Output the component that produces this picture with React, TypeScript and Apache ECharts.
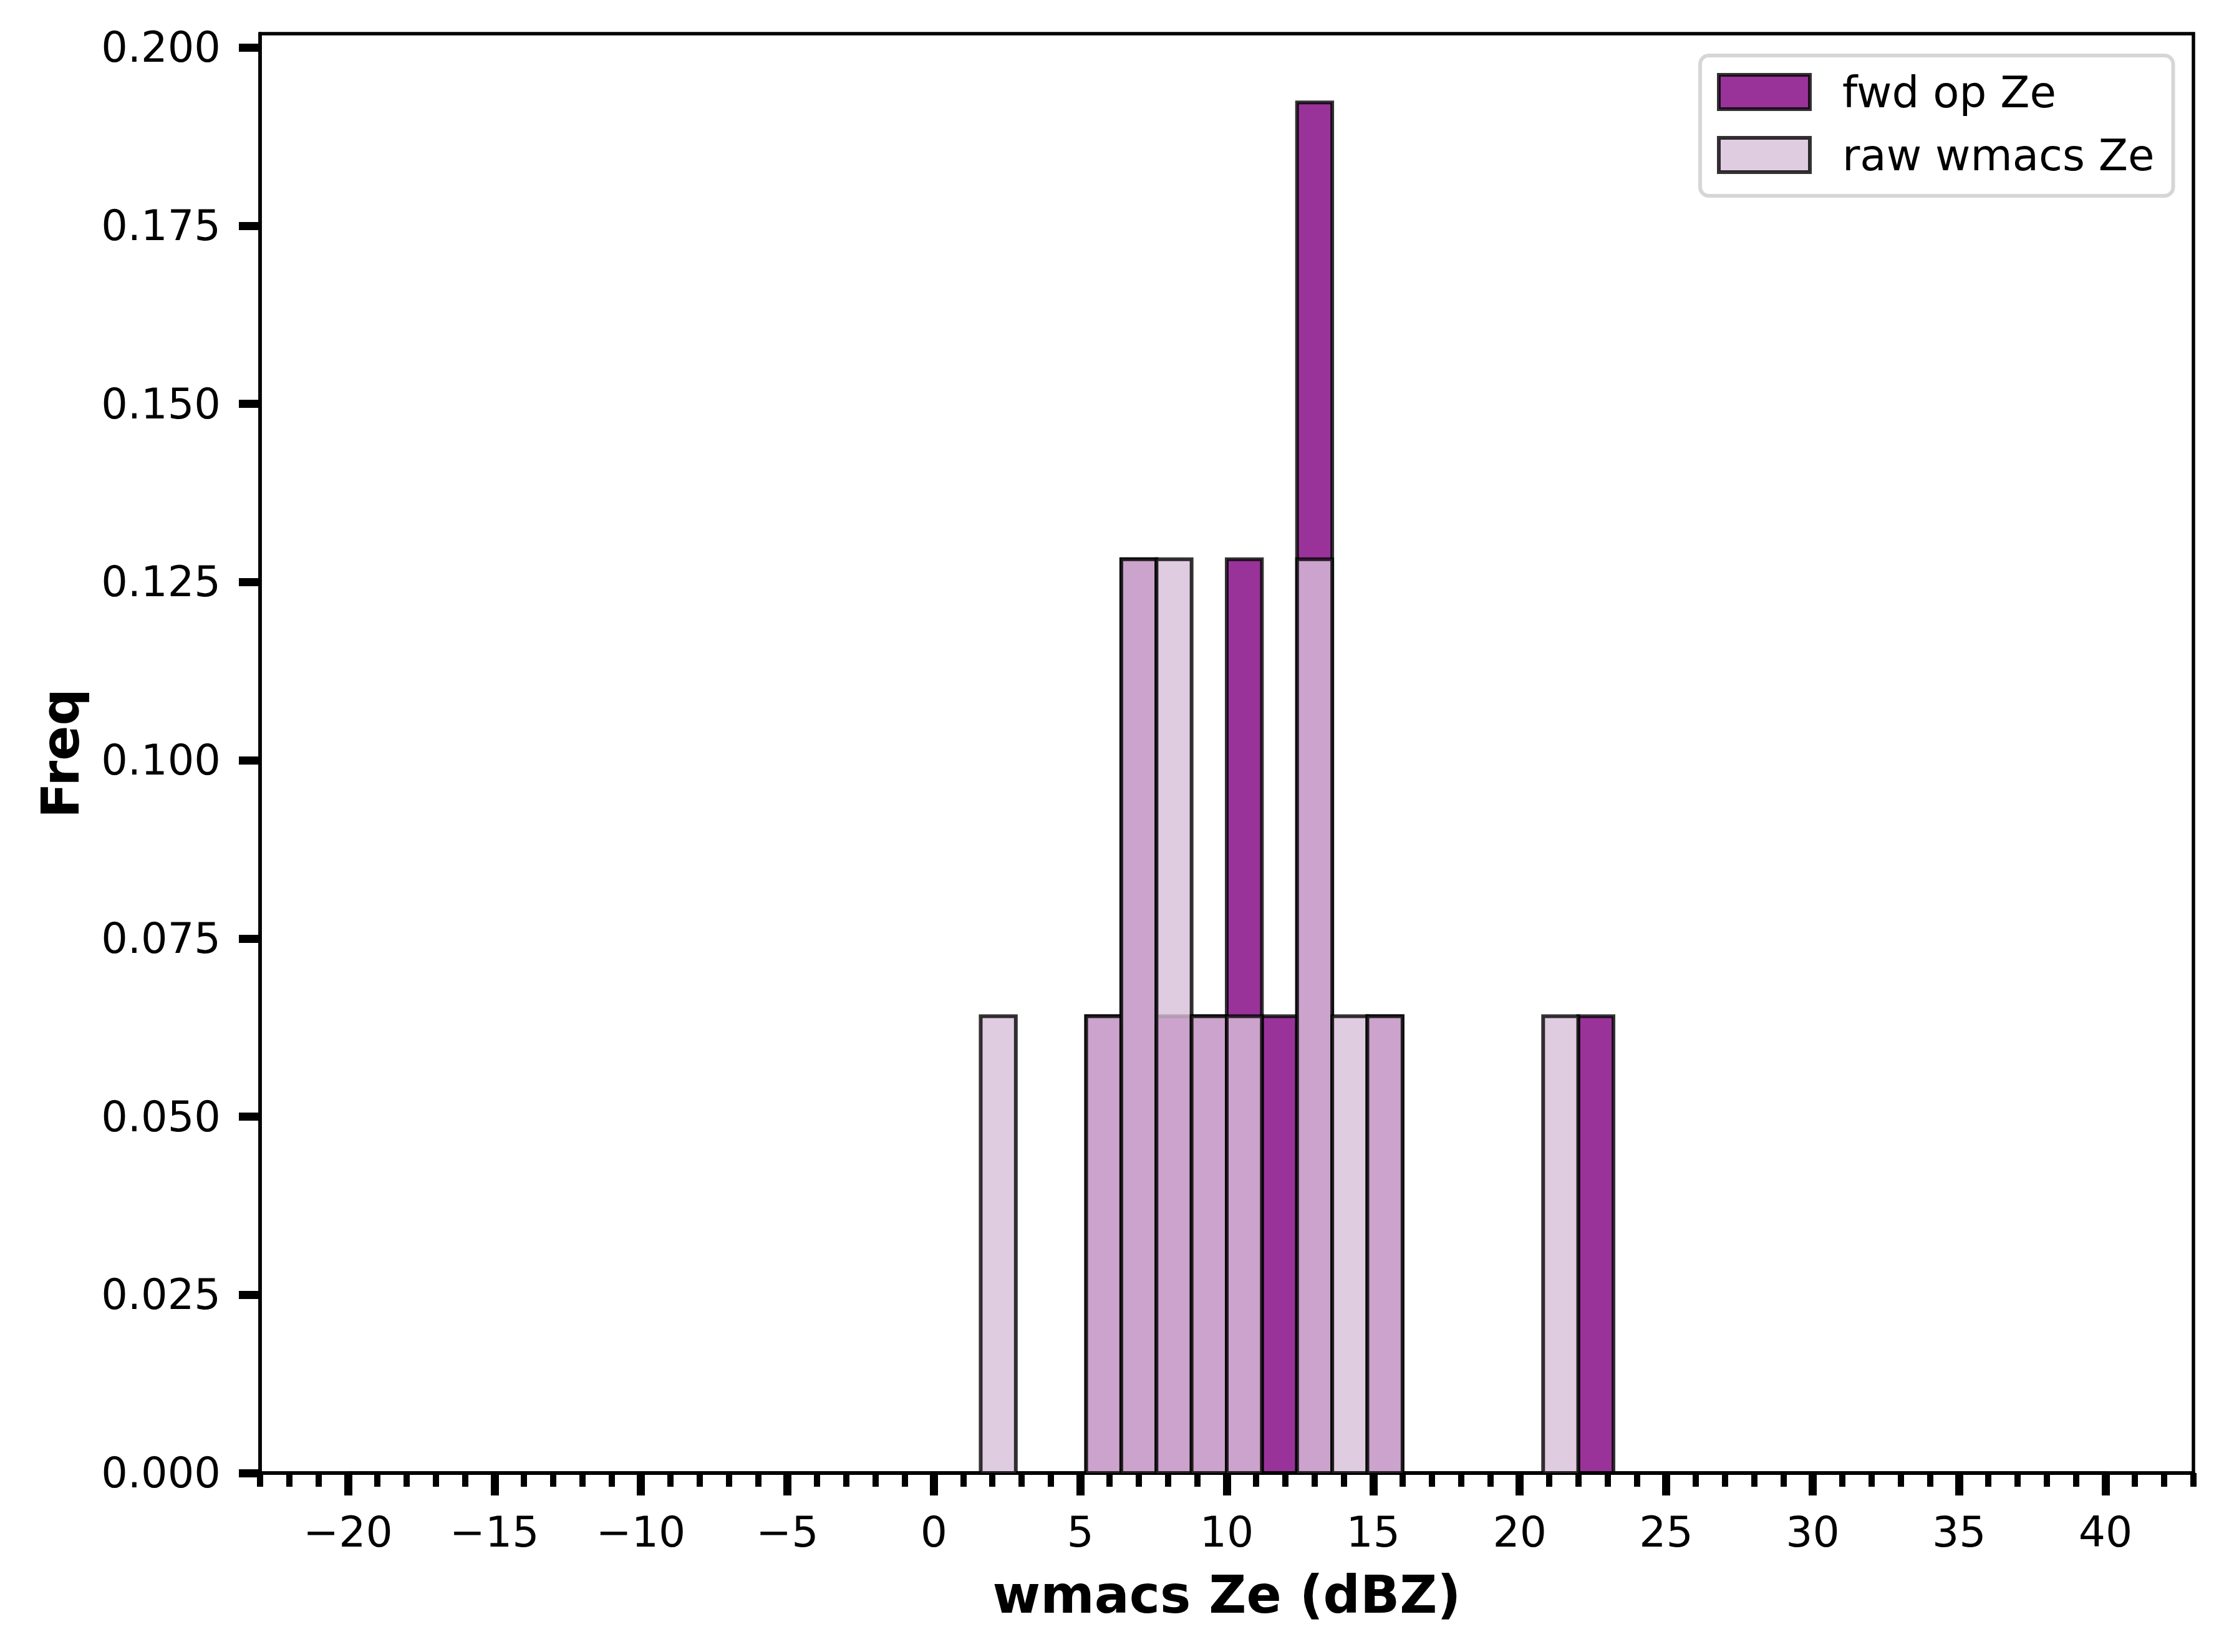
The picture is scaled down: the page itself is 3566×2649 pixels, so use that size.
import React, { useEffect, useRef } from 'react';
import * as echarts from 'echarts';

// Histogram bin edges (wmacs Ze, dBZ)
const binEdges = [
  -20, -18.8, -17.6, -16.4, -15.2, -14, -12.8, -11.6, -10.4, -9.2,
  -8, -6.8, -5.6, -4.4, -3.2, -2, -0.8, 0.4, 1.6, 2.8,
  4, 5.2, 6.4, 7.6, 8.8, 10, 11.2, 12.4, 13.6, 14.8,
  16, 17.2, 18.4, 19.6, 20.8, 22, 23.2, 24.4, 25.6, 26.8,
  28, 29.2, 30.4, 31.6, 32.8, 34, 35.2, 36.4, 37.6, 38.8, 40,
];

// Normalised frequency per bin
const fwdFreq = [
  0, 0, 0, 0, 0, 0, 0, 0, 0, 0,
  0, 0, 0, 0, 0, 0, 0, 0, 0, 0,
  0, 0.0641, 0.1282, 0.0641, 0.0641, 0.1282, 0.0641, 0.1923, 0, 0.0641,
  0, 0, 0, 0, 0, 0.0641, 0, 0, 0, 0,
  0, 0, 0, 0, 0, 0, 0, 0, 0, 0,
];
const rawFreq = [
  0, 0, 0, 0, 0, 0, 0, 0, 0, 0,
  0, 0, 0, 0, 0, 0, 0, 0, 0.0641, 0,
  0, 0.0641, 0.1282, 0.1282, 0.0641, 0.0641, 0, 0.1282, 0.0641, 0.0641,
  0, 0, 0, 0, 0.0641, 0, 0, 0, 0, 0,
  0, 0, 0, 0, 0, 0, 0, 0, 0, 0,
];

const seriesNames = ['fwd op Ze', 'raw wmacs Ze'];
const xMajorTicks = [-20, -15, -10, -5, 0, 5, 10, 15, 20, 25, 30, 35, 40];
const yTicks = [0, 0.025, 0.05, 0.075, 0.1, 0.125, 0.15, 0.175, 0.2];
const X_MIN = -23;
const X_MAX = 43;
const Y_MAX = 0.20194;

const FONT = 'DejaVu Sans';
const FWD_FILL = 'rgba(128,0,128,0.8)';
const RAW_FILL = 'rgba(216,191,216,0.8)';
const EDGE = 'rgba(0,0,0,0.8)';

export default function App() {
  const ref = useRef<HTMLDivElement>(null);

  useEffect(() => {
    document.body.style.margin = '0';
    const chart = echarts.init(ref.current!, null, { renderer: 'svg' });

    const xMinorTicks: number[] = [];
    for (let v = X_MIN; v <= X_MAX; v++) xMinorTicks.push(v);

    const makeData = (freq: number[]) =>
      freq.map((f, i) => [binEdges[i], binEdges[i + 1], f]);

    const renderBar = (fill: string) => (params: any, api: any) => {
      const p0 = api.coord([api.value(0), 0]);
      const p1 = api.coord([api.value(1), api.value(2)]);
      return {
        type: 'rect',
        shape: {
          x: p0[0],
          y: p1[1],
          width: p1[0] - p0[0],
          height: p0[1] - p1[1],
        },
        style: { fill, stroke: EDGE, lineWidth: 6 },
      };
    };

    const fmtX = (v: number) => (v < 0 ? '\u2212' + Math.abs(v) : String(v));

    chart.setOption({
      animation: false,
      backgroundColor: '#ffffff',
      grid: {
        left: 417,
        top: 54,
        right: 49,
        bottom: 287,
        show: true,
        borderColor: '#000',
        borderWidth: 5.5,
        backgroundColor: 'transparent',
      },
      xAxis: [
        {
          type: 'value',
          min: X_MIN,
          max: X_MAX,
          position: 'bottom',
          axisLine: { show: true, onZero: false, lineStyle: { color: '#000', width: 5.5 } },
          axisTick: {
            show: true,
            customValues: xMajorTicks,
            length: 36,
            lineStyle: { color: '#000', width: 13 },
          },
          axisLabel: {
            show: true,
            customValues: xMajorTicks,
            formatter: fmtX,
            fontFamily: FONT,
            fontSize: 68,
            color: '#000',
            margin: 60,
          },
          splitLine: { show: false },
          name: 'wmacs Ze (dBZ)',
          nameLocation: 'middle',
          nameGap: 154,
          nameTextStyle: {
            fontFamily: FONT,
            fontSize: 83,
            fontWeight: 'bold',
            color: '#000',
          },
        },
        {
          type: 'value',
          min: X_MIN,
          max: X_MAX,
          position: 'bottom',
          axisLine: { show: false, onZero: false },
          axisTick: {
            show: true,
            customValues: xMinorTicks,
            length: 22,
            lineStyle: { color: '#000', width: 10 },
          },
          axisLabel: { show: false },
          splitLine: { show: false },
        },
      ],
      yAxis: {
        type: 'value',
        min: 0,
        max: Y_MAX,
        position: 'left',
        axisLine: { show: true, onZero: false, lineStyle: { color: '#000', width: 5.5 } },
        axisTick: {
          show: true,
          customValues: yTicks,
          length: 34,
          lineStyle: { color: '#000', width: 13 },
        },
        axisLabel: {
          show: true,
          customValues: yTicks,
          formatter: (v: number) => v.toFixed(3),
          fontFamily: FONT,
          fontSize: 67,
          color: '#000',
          margin: 63,
        },
        splitLine: { show: false },
        name: 'Freq',
        nameLocation: 'middle',
        nameGap: 278,
        nameRotate: 90,
        nameTextStyle: {
          fontFamily: FONT,
          fontSize: 83,
          fontWeight: 'bold',
          color: '#000',
        },
      },
      legend: {
        orient: 'vertical',
        left: 2726,
        top: 89,
        padding: [24, 30, 31, 27],
        itemWidth: 146,
        itemHeight: 55,
        itemGap: 32,
        selectedMode: false,
        backgroundColor: 'rgba(255,255,255,0.8)',
        borderColor: '#d6d6d6',
        borderWidth: 6,
        borderRadius: 14,
        textStyle: {
          fontFamily: FONT,
          fontSize: 69,
          color: '#000',
          lineHeight: 55,
          padding: [0, 0, 0, 47],
        },
        data: [
          {
            name: seriesNames[0],
            icon: 'rect',
            itemStyle: { color: FWD_FILL, borderColor: EDGE, borderWidth: 6 },
          },
          {
            name: seriesNames[1],
            icon: 'rect',
            itemStyle: { color: RAW_FILL, borderColor: EDGE, borderWidth: 6 },
          },
        ],
      },
      series: [
        {
          name: seriesNames[0],
          type: 'custom',
          xAxisIndex: 0,
          yAxisIndex: 0,
          renderItem: renderBar(FWD_FILL),
          encode: { x: [0, 1], y: 2 },
          itemStyle: { color: FWD_FILL, borderColor: EDGE, borderWidth: 6 },
          data: makeData(fwdFreq),
        },
        {
          name: seriesNames[1],
          type: 'custom',
          xAxisIndex: 0,
          yAxisIndex: 0,
          renderItem: renderBar(RAW_FILL),
          encode: { x: [0, 1], y: 2 },
          itemStyle: { color: RAW_FILL, borderColor: EDGE, borderWidth: 6 },
          data: makeData(rawFreq),
        },
      ],
    });

    return () => chart.dispose();
  }, []);

  return (
    <div
      ref={ref}
      style={{
        position: 'fixed',
        left: 0,
        top: 0,
        width: 3566,
        height: 2649,
        background: '#fff',
      }}
    />
  );
}
